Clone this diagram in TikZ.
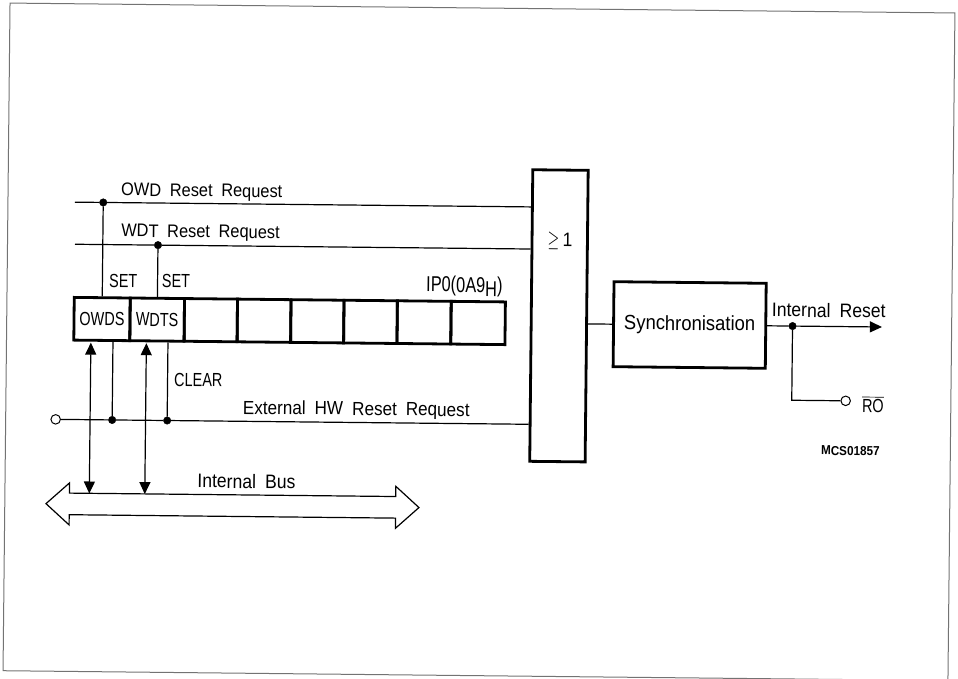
\documentclass[tikz,border=0pt]{standalone}
\usepackage{amsmath}
\usepackage{fontspec}
\setmainfont[WordSpace=1.9, FakeStretch=0.9]{Liberation Sans}
\newfontfamily\capsfont[WordSpace=1.9, FakeStretch=0.76]{Liberation Sans}
\usetikzlibrary{arrows.meta}
\usetikzlibrary{shapes.arrows}
\newcommand{\wiredotsize}{7.5pt}
\newcommand{\portsize}{9.5pt}
\tikzset{wirept/.style={circle, draw, fill=black, inner sep=0pt, minimum width=\wiredotsize}}
\tikzset{portpt/.style={circle, draw, fill=white, line width=1pt, inner sep=0pt, minimum width=\portsize}}
\tikzset{wire/.style={line width=1.2pt}}
\tikzset{busarrow/.style={wire, -{Triangle[length=12pt,width=11pt]}}}
\tikzset{bothways/.style={wire, {Triangle[length=12pt,width=11pt]}-{Triangle[length=12pt,width=11pt]}}}
\tikzset{heavybox/.style={rectangle, draw, line width=2.8pt, inner sep=0pt}}
\tikzset{regcell/.style={heavybox, minimum height=42.7pt, font=\capsfont\fontsize{19}{19}\selectfont}}
\tikzset{lbl/.style={anchor=base west, inner sep=0pt, font=\fontsize{19.5}{19.5}\selectfont}}
\tikzset{reqlbl/.style={anchor=base west, inner sep=0pt, font=\fontsize{18.2}{18.2}\selectfont}}
\tikzset{smalllbl/.style={anchor=base west, inner sep=0pt, font=\capsfont\fontsize{19}{19}\selectfont}}

\begin{document}
\begin{tikzpicture}[x=1pt, y=-1pt]

\useasboundingbox (0,0) rectangle (958,679);

\begin{scope}[rotate around={-0.6:(480,340)}, transform shape]

\draw[line width=1pt, black!55] (6.5,8) rectangle (951.5,675.7);

\node[regcell, minimum width=56pt] (owds) at (101.8,323) {OWDS};
\node[regcell, minimum width=54.3pt] (wdts) at (156.95,323) {WDTS};
\node[regcell, minimum width=53pt] (cella) at (210.6,323) {};
\node[regcell, minimum width=53.5pt] (cellb) at (263.85,323) {};
\node[regcell, minimum width=53pt] (cellc) at (317.1,323) {};
\node[regcell, minimum width=53.4pt] (celld) at (370.3,323) {};
\node[regcell, minimum width=53.8pt] (celle) at (423.9,323) {};
\node[regcell, minimum width=54.2pt] (cellf) at (477.9,323) {};

\node[heavybox, minimum width=55.4pt, minimum height=291.6pt] (orgate) at (558.7,315) {};
\node[inner sep=0pt, font=\fontsize{19.5}{19.5}\selectfont] (orlabel) at (559,240) {\scalebox{.72}[1.1]{$\geq$}\,1};
\node[heavybox, minimum width=152.2pt, minimum height=85pt, font=\fontsize{20.5}{20.5}\selectfont] (sync) at (689.5,322.8) {Synchronisation};

\node[double arrow, draw, wire, inner xsep=0pt, inner ysep=10.2pt, minimum width=40.8pt, minimum height=373pt,
  double arrow head extend=10.2pt, double arrow head indent=0pt, double arrow tip angle=84] (bus) at (234.2,508.2) {};

\coordinate (owdin) at (73.5,206.4);
\coordinate (wdtin) at (74,248.5);
\coordinate (owdend) at (orgate.west |- owdin);
\coordinate (wdtend) at (orgate.west |- wdtin);
\node[wirept] (owdpt) at (101.8,206.4) {};
\node[wirept] (wdtpt) at (157,248.5) {};
\draw[wire] (owdin) -- (owdpt); \draw[wire] (owdpt) -- (owdend);
\draw[wire] (wdtin) -- (wdtpt); \draw[wire] (wdtpt) -- (wdtend);
\draw[wire] (owdpt) -- (owds.north);
\draw[wire] (wdtpt) -- (wdts.north);

\node[portpt] (hwin) at (56.5,423.8) {};
\node[wirept] (hwa) at (113,423.8) {};
\node[wirept] (hwb) at (168,423.8) {};
\coordinate (hwend) at (orgate.west |- hwin);
\coordinate (owdsclr) at (hwa |- owds.south);
\coordinate (wdtsclr) at (hwb |- wdts.south);
\draw[wire] (hwin) -- (hwa); \draw[wire] (hwa) -- (hwb); \draw[wire] (hwb) -- (hwend);
\draw[wire] (hwa) -- (owdsclr);
\draw[wire] (hwb) -- (wdtsclr);

\coordinate (owdstop) at (90.9,346.7);
\coordinate (owdsbus) at (90.9,497.6);
\coordinate (wdtstop) at (146.4,346.7);
\coordinate (wdtsbus) at (146.4,497.6);
\draw[bothways] (owdstop) -- (owdsbus);
\draw[bothways] (wdtstop) -- (wdtsbus);

\coordinate (gateout) at (orgate.east |- sync.west);
\draw[wire] (gateout) -- (sync.west);
\node[wirept] (outpt) at (792.4,322.8) {};
\coordinate (outend) at (881.8,322.8);
\coordinate (rocorner) at (792.4,397);
\node[portpt] (roport) at (846.3,397) {};
\draw[wire] (sync.east) -- (outpt);
\draw[busarrow] (outpt) -- (outend);
\draw[wire] (outpt) -- (rocorner) -- (roport);

\node[reqlbl] (owdlabel) at (119.5,199.5) {OWD Reset Request};
\node[reqlbl] (wdtlabel) at (120,240.5) {WDT Reset Request};
\node[smalllbl] (setowds) at (108.4,291.2) {SET};
\node[smalllbl] (setwdts) at (161.2,290.6) {SET};
\node[smalllbl, font=\capsfont\fontsize{21.5}{21.5}\selectfont] (ipolabel) at (425.5,292.3) {IP0(0A9\raisebox{-4pt}{H})};
\node[smalllbl] (clearlabel) at (174.5,389.2) {CLEAR};
\node[lbl, font=\fontsize{19}{19}\selectfont] (hwlabel) at (243.5,416.5) {External HW Reset Request};
\node[lbl] (buslabel) at (198.8,490.7) {Internal Bus};
\node[lbl] (intlabel) at (771.5,313.6) {Internal Reset};
\node[smalllbl] (rolabel) at (862.6,408.7) {$\overline{\text{RO}}$};
\node[anchor=base west, inner sep=0pt, font=\bfseries\fontsize{13}{13}\selectfont] (mcslabel) at (822,451.4) {MCS01857};

\end{scope}

\end{tikzpicture}
\end{document}
